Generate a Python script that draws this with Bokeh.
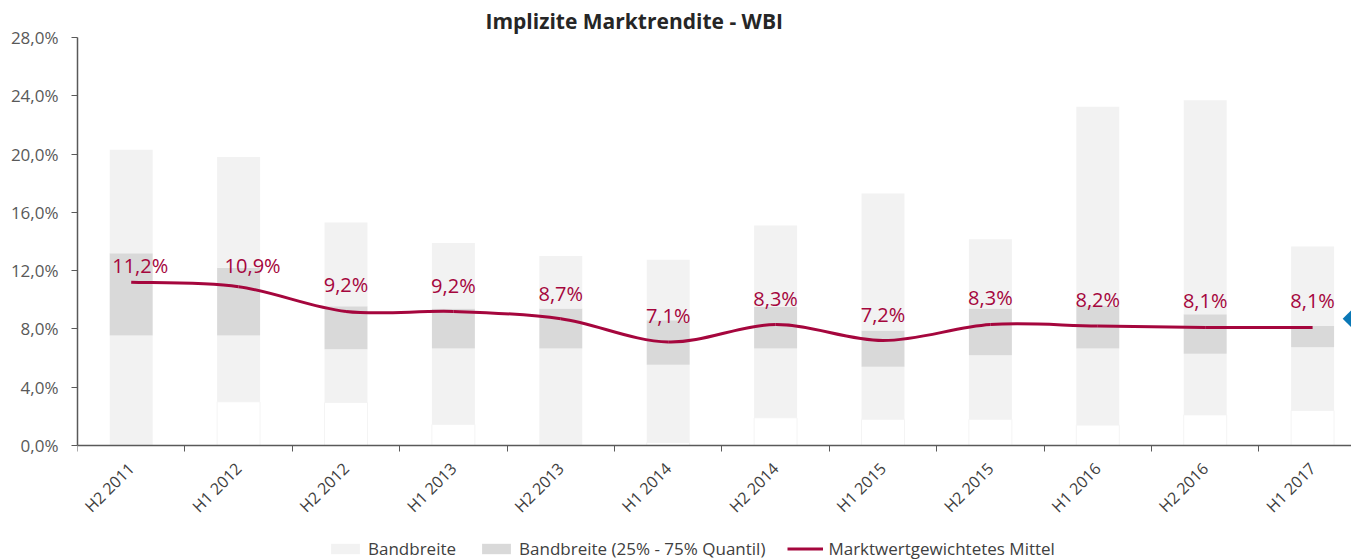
import math
from bokeh.plotting import figure
from bokeh.models import Range1d, FixedTicker, Legend, LegendItem, ColumnDataSource
from bokeh.core.properties import value
from bokeh.embed import file_html
from bokeh.resources import INLINE

categories = ["H2 2011", "H1 2012", "H2 2012", "H1 2013", "H2 2013", "H1 2014",
              "H2 2014", "H1 2015", "H2 2015", "H1 2016", "H2 2016", "H1 2017"]
band_min = [0.0, 3.0, 2.95, 1.45, 0.0, 0.2, 1.9, 1.8, 1.8, 1.4, 2.1, 2.4]
q25 = [7.55, 7.55, 6.6, 6.65, 6.65, 5.55, 6.65, 5.4, 6.2, 6.65, 6.3, 6.75]
q75 = [13.2, 12.2, 9.55, 9.4, 9.4, 8.6, 9.5, 7.9, 9.4, 9.6, 9.0, 8.2]
band_max = [20.3, 19.8, 15.3, 13.9, 13.0, 12.75, 15.1, 17.3, 14.15, 23.25, 23.7, 13.65]
mittel = [11.2, 10.9, 9.2, 9.2, 8.7, 7.1, 8.3, 7.2, 8.3, 8.2, 8.1, 8.1]
y_ticks = [0, 4, 8, 12, 16, 20, 24, 28]
marker_value = 8.7

# label nudges in screen pixels (styling)
label_dx = [9, 14, 0, 0, 0, 0, 0, 0, 0, 0, 0, 0]
label_dy = [-17, -21, -27, -26, -25, -27, -26, -26, -27, -27, -27, -27]

x = list(range(len(categories)))
zeros = [0.0] * len(x)

FONT = "Open Sans"
TXT = "#404040"
RED = "#A5063D"

W, H = 1351, 560
LEFT, TOP, AXIS_Y = 77, 37, 445
px_per_unit = (AXIS_Y - TOP) / 28.0
y_start = -(H - AXIS_Y) / px_per_unit
cat_px = 107.4
x_end = (W - LEFT) / cat_px - 0.5

p = figure(width=W, height=H, output_backend="svg", toolbar_location=None,
           x_range=Range1d(-0.5, x_end), y_range=Range1d(y_start, 28),
           min_border_left=LEFT, min_border_right=0, min_border_top=TOP, min_border_bottom=0)
p.title.text = "Implizite Marktrendite - WBI"
p.title.align = "left"
p.title.offset = 408
p.title.text_font = FONT
p.title.text_font_size = "21px"
p.title.text_font_style = "bold"
p.title.text_color = "#262626"
p.title.standoff = 5
p.outline_line_color = None
p.xgrid.visible = False
p.ygrid.visible = False

bw = 0.4
r_base = p.vbar(x=x, bottom=zeros, top=band_min, width=bw, fill_color="white", line_color="#F4F4F4", line_width=1)
r_low = p.vbar(x=x, bottom=band_min, top=q25, width=bw, fill_color="#F2F2F2", line_color=None)
r_iqr = p.vbar(x=x, bottom=q25, top=q75, width=bw, fill_color="#D9D9D9", line_color=None)
r_high = p.vbar(x=x, bottom=q75, top=band_max, width=bw, fill_color="#F2F2F2", line_color=None)

# smoothed line (Catmull-Rom style bezier through the data points)
n = len(x)
bx0, by0, bx1, by1, cx0, cy0, cx1, cy1 = [], [], [], [], [], [], [], []
for i in range(n - 1):
    xm = x[i - 1] if i > 0 else x[i]
    ym = mittel[i - 1] if i > 0 else mittel[i]
    xp = x[i + 2] if i + 2 < n else x[i + 1]
    yp = mittel[i + 2] if i + 2 < n else mittel[i + 1]
    bx0.append(x[i]); by0.append(mittel[i])
    bx1.append(x[i + 1]); by1.append(mittel[i + 1])
    cx0.append(x[i] + (x[i + 1] - xm) / 6.0); cy0.append(mittel[i] + (mittel[i + 1] - ym) / 6.0)
    cx1.append(x[i + 1] - (xp - x[i]) / 6.0); cy1.append(mittel[i + 1] - (yp - mittel[i]) / 6.0)
r_line = p.bezier(x0=bx0, y0=by0, x1=bx1, y1=by1, cx0=cx0, cy0=cy0, cx1=cx1, cy1=cy1,
                  line_color=RED, line_width=3)

labels = [f"{v:.1f}".replace(".", ",") + "%" for v in mittel]
src = ColumnDataSource(dict(x=x, y=mittel, t=labels, dx=label_dx, dy=label_dy))
p.text(x="x", y="y", text="t", source=src, text_align="center", text_baseline="middle",
       x_offset="dx", y_offset="dy", text_font=value(FONT), text_font_size="20px", text_color=RED)

p.scatter(x=[x_end + 0.01], y=[marker_value], marker="square", angle=math.pi / 4, size=14,
          fill_color="#0A78B6", line_color=None)

# axes
p.yaxis.ticker = FixedTicker(ticks=y_ticks)
p.yaxis.bounds = (0, 28)
p.yaxis.major_label_overrides = {t: f"{t:.1f}".replace(".", ",") + "%" for t in y_ticks}
p.yaxis.major_label_text_font = FONT
p.yaxis.major_label_text_font_size = "17px"
p.yaxis.major_label_text_color = "#595959"
p.yaxis.axis_line_color = "#595959"
p.yaxis.axis_line_width = 1.5
p.yaxis.major_tick_line_color = "#595959"
p.yaxis.major_tick_out = 6
p.yaxis.major_tick_in = 0
p.yaxis.minor_tick_out = 0
p.yaxis.minor_tick_in = 0
p.yaxis.major_label_standoff = 13

p.xaxis.fixed_location = 0
p.xaxis.ticker = FixedTicker(ticks=x, minor_ticks=[i - 0.5 for i in x])
p.xaxis.major_label_overrides = {i: c for i, c in zip(x, categories)}
p.xaxis.major_label_orientation = math.pi / 4
p.xaxis.major_label_text_font = FONT
p.xaxis.major_label_text_font_size = "16px"
p.xaxis.major_label_text_color = TXT
p.xaxis.axis_line_color = "#595959"
p.xaxis.axis_line_width = 1.5
p.xaxis.major_tick_out = 0
p.xaxis.major_tick_in = 0
p.xaxis.minor_tick_out = 6
p.xaxis.minor_tick_in = 0
p.xaxis.minor_tick_line_color = "#595959"
p.xaxis.major_label_standoff = 14

legend = Legend(items=[LegendItem(label="Bandbreite", renderers=[r_high]),
                       LegendItem(label="Bandbreite (25% - 75% Quantil)", renderers=[r_iqr]),
                       LegendItem(label="Marktwertgewichtetes Mittel", renderers=[r_line])],
                orientation="horizontal", location=(250, 0))
legend.label_text_font = FONT
legend.label_text_font_size = "17px"
legend.label_text_color = TXT
legend.glyph_width = 36
legend.glyph_height = 13
legend.label_standoff = 5
legend.spacing = 22
legend.border_line_color = None
legend.background_fill_alpha = 0
legend.padding = 2
legend.margin = 0
p.add_layout(legend, "center")

open("out.html", "w").write(file_html(p, INLINE))
